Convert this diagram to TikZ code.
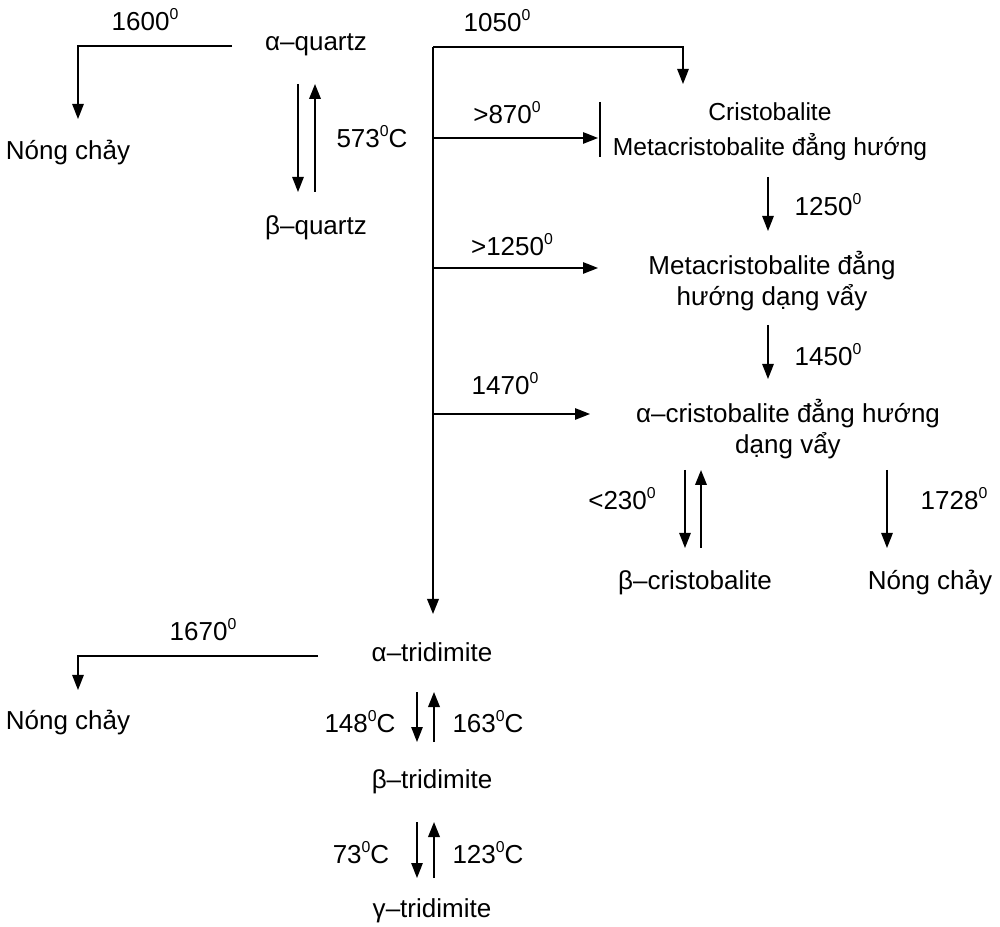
\documentclass[tikz,border=0pt]{standalone}
\usepackage{fontspec}
\setmainfont{Liberation Sans}
\usetikzlibrary{arrows.meta}

\newcommand\degz{\raisebox{0.8ex}{\fontsize{9}{9}\selectfont 0}}

\begin{document}
\begin{tikzpicture}[
  x=0.2mm, y=-0.2mm,
  phase/.style={inner sep=0pt, align=center, font=\fontsize{14.8}{18}\selectfont},
  temp/.style={phase},
  thin/.style={line width=0.75pt},
  arr/.style={thin, -{Triangle[length=3mm, width=2.3mm]}},
  barr/.style={arr, line width=1.15pt}
]
\useasboundingbox (0,0) rectangle (1000,927);

% phases
\node[phase] (aq) at (316,45) {α–quartz};
\node[phase] (bq) at (316,228) {β–quartz};
\node[phase] (melt1) at (68,153) {Nóng chảy};
\node[phase, font=\fontsize{14}{20}\selectfont] (cris) at (770,132) {Cristobalite\\Metacristobalite đẳng hướng};
\node[phase] (mcv) at (772,281) {Metacristobalite đẳng\\hướng dạng vẩy};
\node[phase] (ac) at (788,429) {α–cristobalite đẳng hướng\\dạng vẩy};
\node[phase] (bc) at (695,583) {β–cristobalite};
\node[phase] (melt2) at (930,583) {Nóng chảy};
\node[phase] (at) at (432,652) {α–tridimite};
\node[phase] (melt3) at (68,723) {Nóng chảy};
\node[phase] (bt) at (432,782) {β–tridimite};
\node[phase] (gt) at (432,911) {γ–tridimite};

% arrow ends
\coordinate (q0) at (232,46);   \coordinate (q1) at (78,119);
\coordinate (qa) at (298,84);   \coordinate (qb) at (298,192);
\coordinate (qc) at (315,192);  \coordinate (qd) at (315,84);
\coordinate (t0) at (433,47);   \coordinate (tEnd) at (433,614);
\coordinate (t1) at (433,138);  \coordinate (t2) at (433,268);
\coordinate (t3) at (433,414);
\coordinate (c0) at (683,84);
\coordinate (c1) at (598,138);  \coordinate (c2) at (598,268);
\coordinate (c3) at (590,414);
\coordinate (barTop) at (600,102); \coordinate (barBot) at (600,157);
\coordinate (m0) at (768,177);  \coordinate (m1) at (768,231);
\coordinate (m2) at (768,325);  \coordinate (m3) at (768,379);
\coordinate (b0) at (685,470);  \coordinate (b1) at (685,548);
\coordinate (b2) at (701,548);  \coordinate (b3) at (701,470);
\coordinate (n0) at (887,470);  \coordinate (n1) at (887,548);
\coordinate (r0) at (318,656);  \coordinate (r1) at (78,690);
\coordinate (s0) at (417,692);  \coordinate (s1) at (417,742);
\coordinate (s2) at (434,742);  \coordinate (s3) at (434,692);
\coordinate (g0) at (417,822);  \coordinate (g1) at (417,878);
\coordinate (g2) at (434,878);  \coordinate (g3) at (434,822);

% quartz
\draw[arr] (q0) -| (q1);
\node[temp] (T1600) at (145,20) {1600\degz};
\draw[arr] (qa) -- (qb);
\draw[barr] (qc) -- (qd);
\node[temp] (T573) at (372,137) {573\degz C};

% trunk and branches to cristobalite
\draw[barr] (t0) -- (tEnd);
\draw[arr] (t0) -| (c0);
\node[temp] (T1050) at (497,21) {1050\degz};
\draw[arr] (t1) -- (c1);
\draw[thin] (barTop) -- (barBot);
\node[temp] (T870) at (507,113) {>870\degz};
\draw[arr] (t2) -- (c2);
\node[temp] (T1250b) at (512,245) {>1250\degz};
\draw[arr] (t3) -- (c3);
\node[temp] (T1470) at (505,384) {1470\degz};

% cristobalite series
\draw[arr] (m0) -- (m1);
\node[temp] (T1250) at (828,205) {1250\degz};
\draw[arr] (m2) -- (m3);
\node[temp] (T1450) at (828,355) {1450\degz};
\draw[arr] (b0) -- (b1);
\draw[barr] (b2) -- (b3);
\node[temp] (T230) at (622,499) {<230\degz};
\draw[arr] (n0) -- (n1);
\node[temp] (T1728) at (954,499) {1728\degz};

% tridimite series
\draw[arr] (r0) -| (r1);
\node[temp] (T1670) at (203,630) {1670\degz};
\draw[arr] (s0) -- (s1);
\draw[barr] (s2) -- (s3);
\node[temp] (T148) at (360,722) {148\degz C};
\node[temp] (T163) at (488,722) {163\degz C};
\draw[arr] (g0) -- (g1);
\draw[barr] (g2) -- (g3);
\node[temp] (T73) at (361,853) {73\degz C};
\node[temp] (T123) at (488,853) {123\degz C};
\end{tikzpicture}
\end{document}
